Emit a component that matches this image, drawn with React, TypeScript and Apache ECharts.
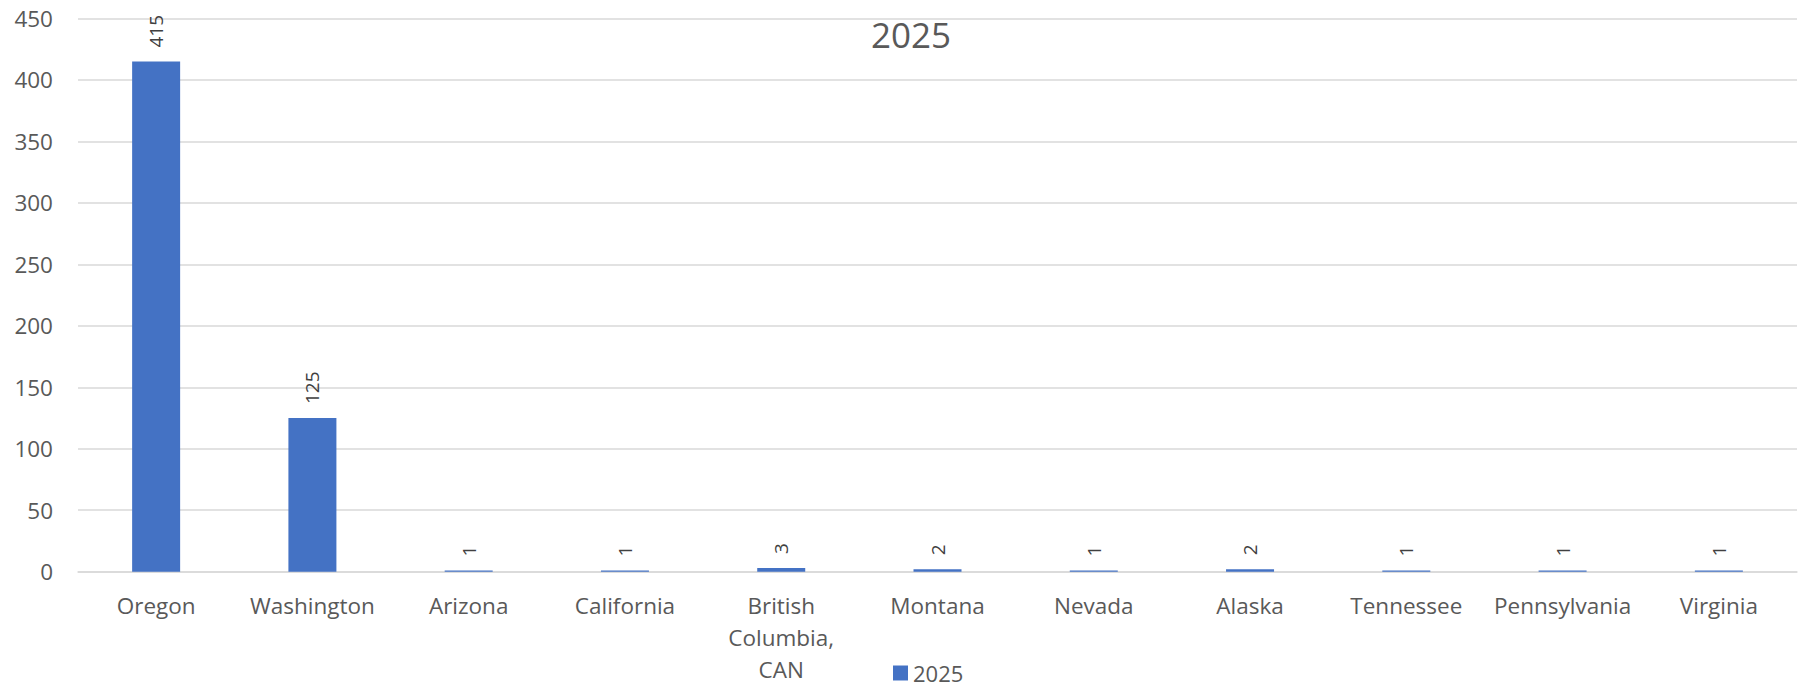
import React, { useEffect, useRef } from "react";
import * as echarts from "echarts";

const categories = [
  "Oregon",
  "Washington",
  "Arizona",
  "California",
  "British\nColumbia,\nCAN",
  "Montana",
  "Nevada",
  "Alaska",
  "Tennessee",
  "Pennsylvania",
  "Virginia",
];
const values2025 = [415, 125, 1, 1, 3, 2, 1, 2, 1, 1, 1];
const seriesName = "2025";
const titleText = "2025";
const yMin = 0;
const yMax = 450;
const yInterval = 50;

const FONT = "'Open Sans', sans-serif";

export default function App() {
  const ref = useRef<HTMLDivElement>(null);
  useEffect(() => {
    if (!ref.current) return;
    const chart = echarts.init(ref.current, undefined, { renderer: "svg" });
    chart.setOption({
      animation: false,
      backgroundColor: "#ffffff",
      title: {
        text: titleText,
        left: 906,
        top: 12,
        textAlign: "center",
        textStyle: { fontFamily: FONT, fontSize: 35, fontWeight: "normal", color: "#595959" },
      },
      legend: {
        data: [seriesName],
        left: 893,
        top: 662,
        padding: 0,
        itemWidth: 15,
        itemHeight: 15,
        icon: "rect",
        textStyle: { fontFamily: FONT, fontSize: 22, color: "#595959" },
      },
      grid: { left: 78, right: 3, top: 18.5, bottom: 115.3, containLabel: false },
      xAxis: {
        type: "category",
        data: categories,
        axisLine: { show: true, lineStyle: { color: "#d9d9d9", width: 1.5 } },
        axisTick: { show: false },
        axisLabel: {
          interval: 0,
          margin: 18,
          fontFamily: FONT,
          fontSize: 22.5,
          lineHeight: 32,
          color: "#595959",
        },
      },
      yAxis: {
        type: "value",
        min: yMin,
        max: yMax,
        interval: yInterval,
        axisLine: { show: false },
        axisTick: { show: false },
        splitLine: { lineStyle: { color: "#d9d9d9", width: 1.5 } },
        axisLabel: { fontFamily: FONT, fontSize: 22.5, color: "#595959", margin: 25 },
      },
      series: [
        {
          name: seriesName,
          type: "bar",
          data: values2025,
          barWidth: 48,
          itemStyle: { color: "#4472C4" },
          label: {
            show: true,
            position: "top",
            rotate: 90,
            align: "left",
            verticalAlign: "middle",
            distance: 14,
            fontFamily: FONT,
            fontSize: 19,
            color: "#404040",
          },
        },
      ],
    });
    return () => chart.dispose();
  }, []);
  return (
    <div
      ref={ref}
      style={{ position: "fixed", left: 0, top: 0, width: 1800, height: 687 }}
    />
  );
}
